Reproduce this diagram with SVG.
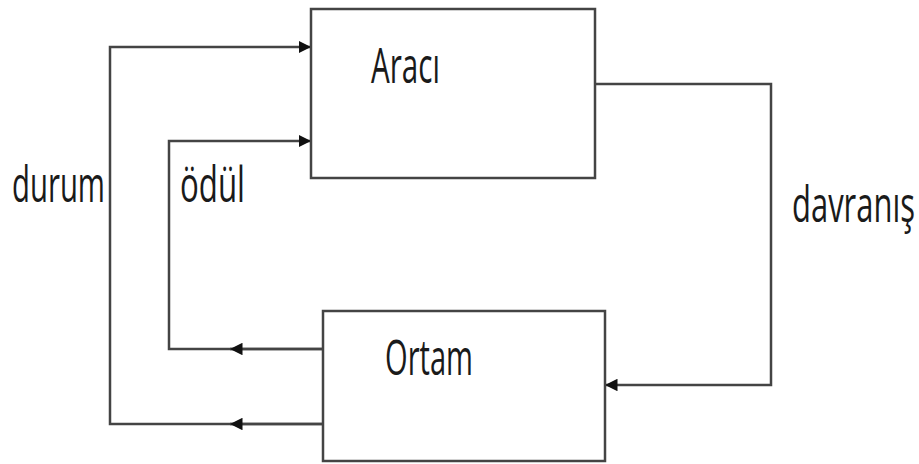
<svg xmlns="http://www.w3.org/2000/svg" width="919" height="464" viewBox="0 0 919 464">
  <style>
    .box { fill: #ffffff; stroke: #444444; stroke-width: 2.5; }
    .wire { fill: none; stroke: #444444; stroke-width: 2.5; }
    .lbl { font-family: "Open Sans", "Liberation Sans", sans-serif; font-size: 30px; fill: #1a1a1a; }
  </style>
  <defs>
    <marker id="arrow" viewBox="0 0 10 10" refX="10" refY="5" markerWidth="5" markerHeight="5" markerUnits="strokeWidth" orient="auto">
      <path d="M0,0 L10,5 L0,10 Z" fill="#111111"/>
    </marker>
  </defs>
  <rect width="919" height="464" fill="#ffffff"/>

  <g id="connectors">
    <!-- durum: Ortam -> Aracı -->
    <path class="wire" d="M323,424 L110,424 L110,47 L311,47" marker-end="url(#arrow)"/>
    <path class="wire" d="M323,424 L230,424" marker-end="url(#arrow)"/>
    <!-- ödül: Ortam -> Aracı -->
    <path class="wire" d="M323,349 L169,349 L169,141 L311,141" marker-end="url(#arrow)"/>
    <path class="wire" d="M323,349 L230,349" marker-end="url(#arrow)"/>
    <!-- davranış: Aracı -> Ortam -->
    <path class="wire" d="M595,84 L771,84 L771,385 L605,385" marker-end="url(#arrow)"/>
  </g>

  <g id="agent">
    <rect class="box" x="311" y="9" width="284" height="169"/>
    <text class="lbl" transform="translate(371,83) scale(1,1.65)" textLength="69" lengthAdjust="spacingAndGlyphs">Aracı</text>
  </g>

  <g id="environment">
    <rect class="box" x="323" y="311" width="282" height="150"/>
    <text class="lbl" transform="translate(385,375) scale(1,1.65)" textLength="88" lengthAdjust="spacingAndGlyphs">Ortam</text>
  </g>

  <g id="labels">
    <text class="lbl" transform="translate(12,202) scale(1,1.65)" textLength="93" lengthAdjust="spacingAndGlyphs">durum</text>
    <text class="lbl" transform="translate(180,202) scale(1,1.65)" textLength="65" lengthAdjust="spacingAndGlyphs">ödül</text>
    <text class="lbl" transform="translate(792,222) scale(1,1.65)" textLength="123" lengthAdjust="spacingAndGlyphs">davranış</text>
  </g>
</svg>
